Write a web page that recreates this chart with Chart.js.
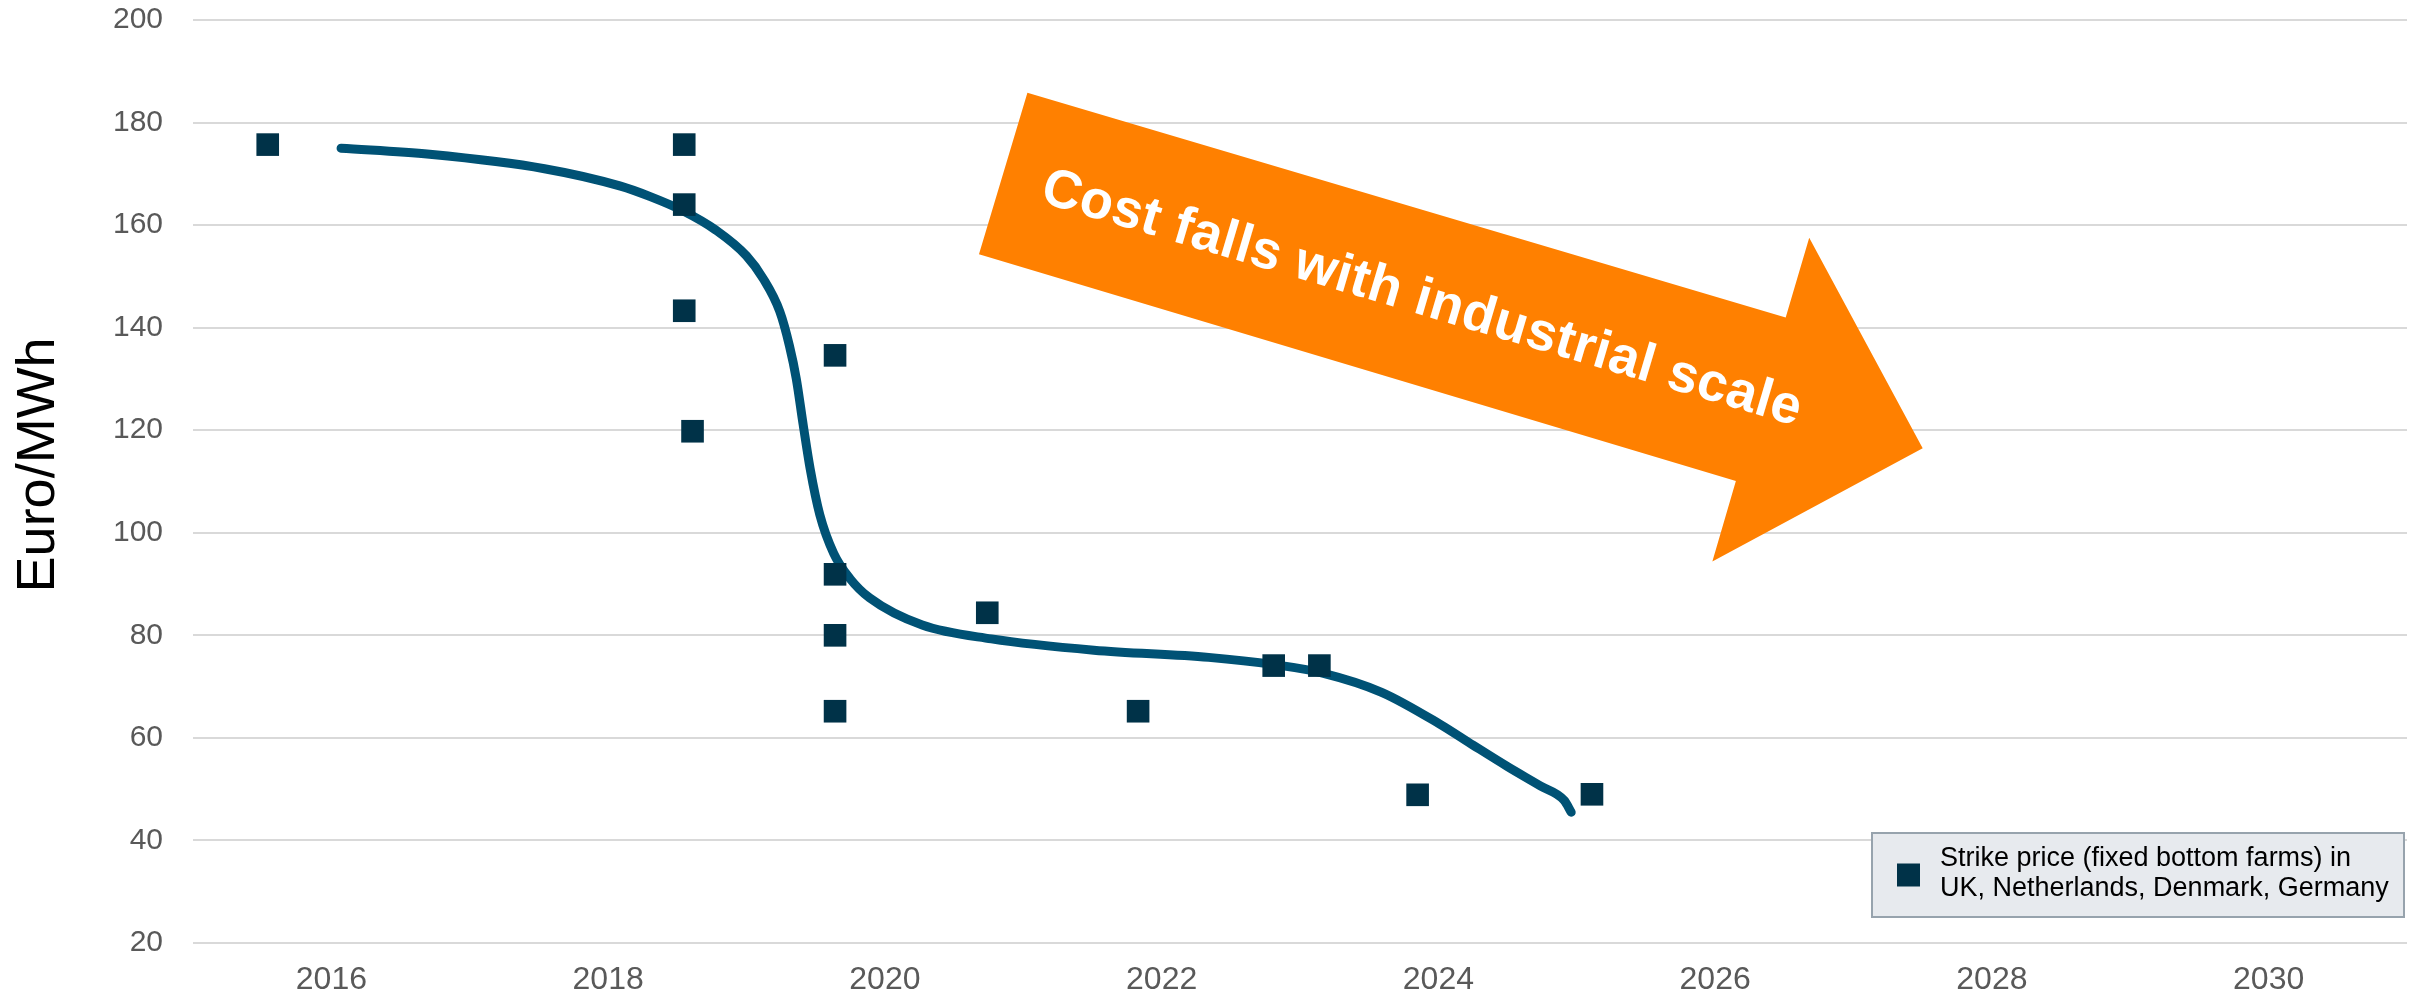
<!DOCTYPE html>
<html>
<head>
<meta charset="utf-8">
<title>Strike price of fixed bottom offshore wind</title>
<script src="https://cdn.jsdelivr.net/npm/chart.js@4"></script>
<style>
    html, body { margin: 0; padding: 0; background: #ffffff; }
    #wrap { width: 2423px; height: 998px; }
</style>
</head>
<body>
<div id="wrap"><canvas id="chart" width="2423" height="998"></canvas></div>
<script>
// ============================================
// data
// ============================================

// strike price auctions (year of award, Euro/MWh)
const strikeYears  = [2015.54, 2018.55, 2018.55, 2018.55, 2018.61, 2019.64, 2019.64, 2019.64, 2019.64, 2020.74, 2021.83, 2022.81, 2023.14, 2023.85, 2025.11];
const strikePrices = [175.7,   175.7,   164.0,   143.3,   119.8,   134.6,   91.9,    80.0,    65.2,    84.4,    65.2,    74.1,    74.1,    48.9,    49.0];

// trend curve, traced point by point
const trendYears  = [2016.07, 2016.71, 2017.54, 2018.09, 2018.30, 2018.54, 2018.78, 2019.00, 2019.12, 2019.24, 2019.31, 2019.36, 2019.41, 2019.46, 2019.53, 2019.63, 2019.75, 2019.89, 2020.27, 2020.77, 2021.51, 2022.34, 2022.81, 2023.17, 2023.59, 2024.01, 2024.25, 2024.50, 2024.74, 2024.91, 2024.96];
const trendPrices = [175.0,   173.8,   171.0,   167.6,   165.6,   162.8,   159.0,   154.0,   149.6,   143.2,   136.5,   130.0,   121.0,   112.5,   103.5,   96.0,    91.0,    87.3,    82.0,    79.3,    77.1,    75.7,    74.3,    72.6,    68.9,    62.7,    58.6,    54.4,    50.6,    47.8,    45.5];

// axes
const yearTicks  = [2016, 2018, 2020, 2022, 2024, 2026, 2028, 2030];
const priceTicks = [20, 40, 60, 80, 100, 120, 140, 160, 180, 200];

const seriesLabel = ['Strike price (fixed bottom farms) in', 'UK, Netherlands, Denmark, Germany'];
const yTitle = 'Euro/MWh';
const arrowText = 'Cost falls with industrial scale';

// arrow outline in data units (year, Euro/MWh)
const arrowYears  = [2021.03, 2026.51, 2026.68, 2027.50, 2025.98, 2026.15, 2020.68];
const arrowPrices = [185.8,   141.96,  157.55,  116.5,   94.4,    110.1,   154.3];
const arrowLabelAt = { x: 2023.88, y: 145.5 };

// ============================================
// styles
// ============================================
const FONT = '"Liberation Sans", Arial, Helvetica, sans-serif';
const MARKER = '#003248';
const LINE = '#005275';
const ORANGE = '#FF8000';
const TICK_GREY = '#595959';
const GRID_GREY = '#D9D9D9';

// arrow + its text, drawn over the grid
const arrowPlugin = {
    id: 'arrowPlugin',
    afterDatasetsDraw(chart) {
        const { ctx, scales } = chart;
        const xs = scales.x, ys = scales.y;
        const pts = arrowYears.map((yr, i) => [xs.getPixelForValue(yr), ys.getPixelForValue(arrowPrices[i])]);

        ctx.save();
        ctx.beginPath();
        pts.forEach((p, i) => i === 0 ? ctx.moveTo(p[0], p[1]) : ctx.lineTo(p[0], p[1]));
        ctx.closePath();
        ctx.fillStyle = ORANGE;
        ctx.fill();

        // text follows the shaft direction
        const angle = Math.atan2(pts[1][1] - pts[0][1], pts[1][0] - pts[0][0]);
        const cx = xs.getPixelForValue(arrowLabelAt.x);
        const cy = ys.getPixelForValue(arrowLabelAt.y);
        ctx.translate(cx, cy);
        ctx.rotate(angle);
        ctx.fillStyle = '#ffffff';
        ctx.font = 'bold 54px ' + FONT;
        ctx.letterSpacing = '0.5px';
        ctx.textAlign = 'center';
        ctx.textBaseline = 'middle';
        ctx.fillText(arrowText, 0, 0);
        ctx.restore();
    }
};

// boxed legend bottom right + rotated axis title
const decorPlugin = {
    id: 'decorPlugin',
    afterDraw(chart) {
        const { ctx, chartArea } = chart;
        ctx.save();

        // axis title
        ctx.translate(39, chartArea.top + (chartArea.bottom - chartArea.top) * 0.482);
        ctx.rotate(-Math.PI / 2);
        ctx.fillStyle = '#000000';
        ctx.font = '54px ' + FONT;
        ctx.textAlign = 'center';
        ctx.textBaseline = 'middle';
        ctx.fillText(yTitle, 0, 0);
        ctx.restore();

        // legend box
        const bx = chartArea.right - 535, by = chartArea.bottom - 110;
        const bw = 532, bh = 84;
        ctx.save();
        ctx.fillStyle = '#E7EAEE';
        ctx.strokeStyle = '#97A3AD';
        ctx.lineWidth = 2;
        ctx.fillRect(bx, by, bw, bh);
        ctx.strokeRect(bx, by, bw, bh);

        ctx.fillStyle = MARKER;
        ctx.fillRect(bx + 25, by + bh / 2 - 11.5, 23, 23);

        ctx.fillStyle = '#000000';
        ctx.font = '27px ' + FONT;
        ctx.textAlign = 'left';
        ctx.textBaseline = 'alphabetic';
        ctx.fillText(seriesLabel[0], bx + 68, by + 33);
        ctx.fillText(seriesLabel[1], bx + 68, by + 63);
        ctx.restore();
    }
};

function buildChart() {
    const ctx = document.getElementById('chart');

    const strikePoints = strikeYears.map((yr, i) => ({ x: yr, y: strikePrices[i] }));
    const trendPoints = trendYears.map((yr, i) => ({ x: yr, y: trendPrices[i] }));

    new Chart(ctx.getContext('2d'), {
        type: 'scatter',
        data: {
            datasets: [{
                label: seriesLabel.join(' '),
                data: strikePoints,
                pointStyle: 'rect',
                pointRadius: 16,
                pointHoverRadius: 16,
                backgroundColor: MARKER,
                borderWidth: 0,
                order: 1
            }, {
                label: 'trend',
                type: 'line',
                data: trendPoints,
                borderColor: LINE,
                borderWidth: 9,
                borderCapStyle: 'round',
                borderJoinStyle: 'round',
                pointRadius: 0,
                fill: false,
                cubicInterpolationMode: 'monotone',
                order: 2
            }]
        },
        options: {
            responsive: false,
            devicePixelRatio: 1,
            animation: false,
            layout: { padding: { top: 20, right: 15, bottom: 0, left: 0 } },
            plugins: {
                legend: { display: false },
                tooltip: { enabled: false }
            },
            scales: {
                x: {
                    type: 'linear',
                    min: 2015,
                    max: 2031,
                    afterBuildTicks: (scale) => { scale.ticks = yearTicks.map(v => ({ value: v })); },
                    afterFit: (scale) => { scale.height = 55; scale.paddingLeft = 0; scale.paddingRight = 0; },
                    grid: { display: false, drawTicks: false },
                    border: { display: false },
                    ticks: {
                        padding: 18,
                        color: TICK_GREY,
                        font: { family: FONT, size: 32 },
                        callback: (v) => String(v)
                    }
                },
                y: {
                    min: 20,
                    max: 200,
                    afterBuildTicks: (scale) => { scale.ticks = priceTicks.map(v => ({ value: v })); },
                    afterFit: (scale) => { scale.width = 193; scale.paddingTop = 0; scale.paddingBottom = 0; },
                    grid: { color: GRID_GREY, lineWidth: 2, drawTicks: false },
                    border: { display: false },
                    ticks: {
                        padding: 30,
                        color: TICK_GREY,
                        font: { family: FONT, size: 30 }
                    }
                }
            }
        },
        plugins: [arrowPlugin, decorPlugin]
    });
}

buildChart();
</script>
</body>
</html>
